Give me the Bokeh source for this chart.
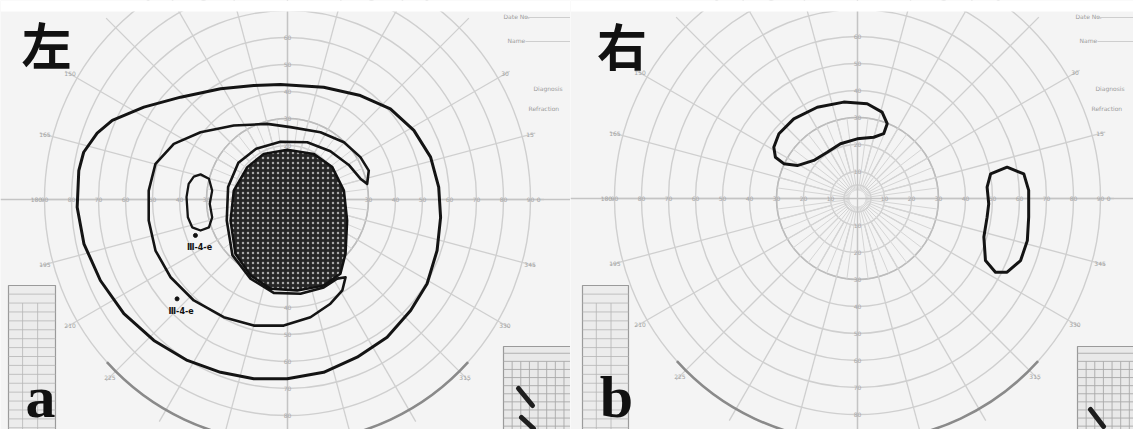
import numpy as np
from bokeh.plotting import figure
from bokeh.layouts import row
from bokeh.models import Range1d
from bokeh.core.properties import value
from bokeh.embed import file_html
from bokeh.resources import INLINE

# ---------------- data (visual-field degrees) ----------------
ring_deg = [5, 10, 20, 30, 40, 50, 60, 70, 80, 90]
meridian_deg = list(range(0, 360, 15))
inner_meridian_deg = [i * 7.5 for i in range(48)]
scale_ticks = [10, 20, 30, 40, 50, 60, 70, 80, 90]
angle_labels = [str(a) for a in range(0, 360, 15)]

# Left eye (左)
left_outer_x = [-2.6, 13.4, 27.0, 38.1, 46.8, 53.0, 56.0, 56.7, 55.4, 51.7, 45.6, 36.9, 25.8, 13.4, -0.1,
                -12.5, -24.8, -37.1, -49.5, -60.6, -69.3, -75.4, -77.9, -77.3, -75.5, -70.5, -64.9, -53.2, -39.6, -24.8, -12.5]
left_outer_y = [42.6, 41.6, 38.5, 33.6, 25.6, 15.7, 4.6, -6.6, -18.9, -31.2, -41.1, -51.0, -58.4, -64.0, -66.4,
                -66.4, -64.0, -59.6, -52.2, -42.3, -30.0, -16.4, -2.9, 10.7, 17.5, 24.6, 29.3, 34.2, 37.9, 41.0, 42.2]

left_crescent_x = [29.5, 30.1, 27.0, 20.9, 12.2, 1.1, -7.5, -19.9, -32.2, -42.1, -48.9, -51.4, -51.4, -48.9, -43.3,
                   -34.7, -23.6, -12.5, -1.4, 8.5, 15.9, 20.3, 21.5,
                   18.4, 13.4, 4.8, -5.1, -13.7, -20.4, -22.5, -22.0, -18.2, -11.6, -2.6, 7.3, 15.9, 22.7, 27.0]
left_crescent_y = [5.8, 10.7, 15.7, 21.2, 24.9, 26.8, 28.0, 27.4, 24.9, 20.6, 13.2, 3.3, -7.8, -18.9, -28.8,
                   -37.4, -43.6, -46.7, -46.7, -43.6, -38.6, -33.7, -28.8,
                   -29.3, -32.6, -34.9, -34.6, -29.3, -20.6, -7.8, 4.6, 13.6, 18.8, 21.4, 21.2, 17.9, 12.8, 7.7]

left_blind_x = [-0.1, 9.7, 16.6, 20.9, 22.1, 21.5, 19.6, 13.4, 3.6, -6.3, -13.7, -19.3, -21.1, -19.9, -14.9, -8.8]
left_blind_y = [18.4, 16.9, 12.0, 3.3, -7.8, -20.1, -27.5, -31.9, -33.7, -33.1, -28.1, -20.1, -7.8, 3.3, 12.0, 16.9]

left_island_x = [-32.2, -29.1, -27.9, -28.8, -27.9, -29.1, -32.2, -35.3, -36.9, -37.4, -36.6, -34.7]
left_island_y = [9.3, 7.7, 3.3, -1.6, -6.6, -10.3, -11.5, -10.3, -6.6, 0.9, 5.8, 8.5]

left_marks_x = [-34.1, -40.9]
left_marks_y = [-13.3, -36.8]
left_marks_text = ["Ⅲ-4-e", "Ⅲ-4-e"]

# Right eye (右)
right_arc_x = [-30.4, -31.0, -29.1, -23.6, -14.9, -5.1, 3.6, 9.1, 11.0, 9.7, 6.0, -0.1, -6.3, -11.2, -16.2, -22.3, -27.3]
right_arc_y = [15.3, 19.0, 24.0, 29.5, 33.8, 35.7, 35.1, 32.0, 27.7, 24.0, 22.7, 22.1, 20.3, 17.1, 14.1, 12.2, 12.9]

right_bean_x = [55.4, 61.6, 63.4, 63.4, 62.9, 60.4, 55.4, 51.1, 47.4, 46.8, 48.0, 48.6, 48.0, 49.3]
right_bean_y = [11.6, 9.1, 3.0, -6.9, -15.6, -23.0, -27.3, -27.3, -23.0, -14.3, -6.9, -2.0, 4.2, 9.1]

header_texts = ["Date No.", "Name", "Diagnosis", "Refraction"]

PX = 2.7  # pixels per degree
H = 429


def inside(x, y, rng, m=4.0):
    x0, x1, y0, y1 = rng
    return (x0 + m) < x < (x1 - m) and (y0 + m) < y < (y1 - m - 11 / PX)


def base_panel(width, cx, cy):
    x0, x1 = -cx / PX, (width - cx) / PX
    y0, y1 = -(H - cy) / PX, cy / PX
    rng = (x0, x1, y0, y1)
    p = figure(width=width, height=H, x_range=Range1d(x0, x1), y_range=Range1d(y0, y1),
               output_backend="svg", toolbar_location=None, x_axis_type=None, y_axis_type=None,
               min_border=0, background_fill_color="#f4f4f4", border_fill_color="#ffffff",
               outline_line_color=None)
    grid = "#cfcfcf"
    p.circle(x=[0] * len(ring_deg), y=[0] * len(ring_deg), radius=ring_deg,
             fill_color=None, line_color=grid, line_width=1.4)
    p.circle(x=[0], y=[0], radius=[30], fill_color=None, line_color="#bcbcbc", line_width=1.6)
    a = np.radians(meridian_deg)
    p.segment(x0=10 * np.cos(a), y0=10 * np.sin(a), x1=95 * np.cos(a), y1=95 * np.sin(a),
              line_color=grid, line_width=1.3)
    b = np.radians(inner_meridian_deg)
    p.segment(x0=3 * np.cos(b), y0=3 * np.sin(b), x1=30 * np.cos(b), y1=30 * np.sin(b),
              line_color="#d5d5d5", line_width=1.0)
    p.segment(x0=[x0, 0], y0=[0, y0], x1=[x1, 0], y1=[0, y1], line_color="#c4c4c4", line_width=1.3)
    p.arc(x=0, y=0, radius=90, start_angle=np.radians(222), end_angle=np.radians(318),
          line_color="#8a8a8a", line_width=2.5)
    hx = [t for t in scale_ticks] + [-t for t in scale_ticks]
    hl = [(x, 0.0, str(abs(x))) for x in hx if inside(x, 0.0, rng)]
    vl = [(0.0, y, str(abs(y))) for y in hx if inside(0.0, y, rng)]
    al = []
    for ang, lab in zip(a, angle_labels):
        x, y = 93 * np.cos(ang), 93 * np.sin(ang)
        if inside(x, y, rng, 6):
            al.append((x, y, lab))
    for lst, col in ((hl, "#a8a8a8"), (vl, "#a8a8a8"), (al, "#a2a2a2")):
        p.text(x=[t[0] for t in lst], y=[t[1] for t in lst], text=[t[2] for t in lst],
               text_font_size="6px", text_color=col, text_align="center", text_baseline="middle",
               text_font=value("DejaVu Sans"))
    p.quad(left=x0, right=x1, bottom=y1 - 11 / PX, top=y1, fill_color="#ffffff", line_color=None)
    return p


def deg(px, c):
    return (px - c) / PX


def add_tables(p, cx, cy, bl_left, bl_right, br_left, marks, head_px):
    x0, x1, y0, y1 = p.x_range.start, p.x_range.end, p.y_range.start, p.y_range.end
    tcol = "#9a9a9a"
    L, R = deg(bl_left, cx), deg(bl_right, cx)
    T = (cy - 285) / PX
    p.quad(left=L, right=R, top=T, bottom=y0, fill_color="#ececec", line_color=tcol, line_width=1.2)
    ys = [T - 3.2 - i * 3.3 for i in range(17)]
    p.segment(x0=[L] * len(ys), y0=ys, x1=[R] * len(ys), y1=ys, line_color="#b5b5b5", line_width=0.8)
    cols = [L + (R - L) * f for f in (0.3, 0.62)]
    p.segment(x0=cols, y0=[T - 6.5] * 2, x1=cols, y1=[y0] * 2, line_color="#b5b5b5", line_width=0.8)
    L2 = deg(br_left, cx)
    T2 = (cy - 346) / PX
    p.quad(left=L2, right=x1 + 1, top=T2, bottom=y0, fill_color="#e9e9e9", line_color=tcol, line_width=1.2)
    hy = [T2 - 2.5, T2 - 5.5] + [T2 - 8.5 - i * 3.0 for i in range(10)]
    p.segment(x0=[L2] * len(hy), y0=hy, x1=[x1] * len(hy), y1=hy, line_color="#a9a9a9", line_width=0.9)
    vx = [L2 + 3.2 + i * 3.2 for i in range(9)]
    p.segment(x0=vx, y0=[T2 - 5.5] * len(vx), x1=vx, y1=[y0] * len(vx), line_color="#a9a9a9", line_width=0.9)
    mx0, my0, mx1, my1 = marks
    p.segment(x0=[deg(v, cx) for v in mx0], y0=[(cy - v) / PX for v in my0],
              x1=[deg(v, cx) for v in mx1], y1=[(cy - v) / PX for v in my1],
              line_color="#1e1e1e", line_width=5, line_cap="round")
    tx = [deg(v, cx) for v in head_px]
    ty = [(cy - v) / PX for v in (16, 40, 88, 108)]
    p.text(x=tx, y=ty, text=header_texts, text_font_size="6px",
           text_color="#9c9c9c", text_baseline="middle", text_font=value("DejaVu Sans"))
    p.segment(x0=[deg(head_px[0] + 22, cx), deg(head_px[1] + 18, cx)], y0=[(cy - 17) / PX, (cy - 41) / PX],
              x1=[x1, x1], y1=[(cy - 17) / PX, (cy - 41) / PX], line_color="#c4c4c4", line_width=0.8)


# ---------------- left panel ----------------
LW, LCX, LCY = 570, 287, 199
pl = base_panel(LW, LCX, LCY)
add_tables(pl, LCX, LCY, 8, 55, 503,
           ([518, 521], [388, 417], [532, 533], [405, 428]), (503, 507, 533, 528))
pl.patch(left_outer_x, left_outer_y, fill_color=None, line_color="#141414", line_width=3, line_join="round")
pl.patch(left_crescent_x, left_crescent_y, fill_color=None, line_color="#141414", line_width=2.6,
         line_join="round")
pl.patch(left_blind_x, left_blind_y, fill_color="#262626", line_color="#111111", line_width=2.5,
         hatch_pattern="dot", hatch_color="#a8a8a8", hatch_scale=5.0, hatch_weight=1.3, line_join="round")
pl.patch(left_island_x, left_island_y, fill_color=None, line_color="#141414", line_width=2.3, line_join="round")
pl.scatter(left_marks_x, left_marks_y, size=4, color="#111111")
pl.text(x=[v + 1.5 for v in left_marks_x], y=[v - 4.5 for v in left_marks_y], text=left_marks_text,
        text_font_size="8px", text_font_style="bold", text_color="#111111", text_align="center",
        text_baseline="middle", text_font=value("DejaVu Sans"))
pl.text(x=[-98.5], y=[71.3], text=["左"], text_font=value("Noto Sans CJK JP"), text_font_size="50px",
        text_font_style="bold", text_color="#111111", text_baseline="top")
pl.text(x=[-97], y=[-73.0], text=["a"], text_font=value("Liberation Serif"), text_font_size="60px",
        text_font_style="bold", text_color="#111111", text_baseline="alphabetic")

# ---------------- right panel ----------------
RW, RCX, RCY = 563, 287, 198
pr = base_panel(RW, RCX, RCY)
add_tables(pr, RCX, RCY, 12, 58, 507,
           ([520], [409], [533], [426]), (505, 509, 525, 521))
pr.patch(right_arc_x, right_arc_y, fill_color=None, line_color="#141414", line_width=3, line_join="round")
pr.patch(right_bean_x, right_bean_y, fill_color=None, line_color="#141414", line_width=3, line_join="round")
pr.text(x=[-96.5], y=[70.5], text=["右"], text_font=value("Noto Sans CJK JP"), text_font_size="50px",
        text_font_style="bold", text_color="#111111", text_baseline="top")
pr.text(x=[-95.5], y=[-73.5], text=["b"], text_font=value("Liberation Serif"), text_font_size="60px",
        text_font_style="bold", text_color="#111111", text_baseline="alphabetic")

layout = row(pl, pr, spacing=0)
open("out.html", "w").write(file_html(layout, INLINE))
